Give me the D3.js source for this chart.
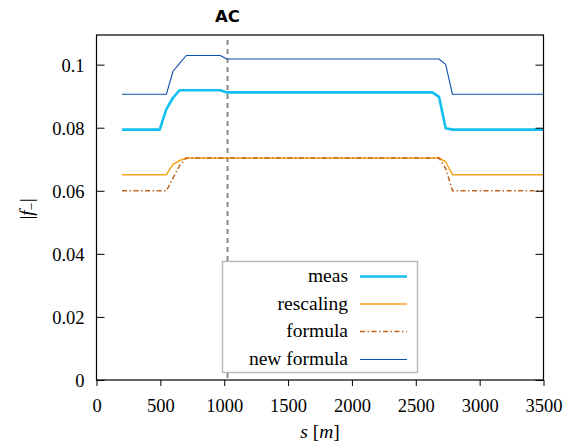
<!DOCTYPE html>
<html><head><meta charset="utf-8">
<script src="https://cdn.jsdelivr.net/npm/d3@7"></script>
<style>
html,body{margin:0;padding:0;background:#fff;}
svg{display:block;}
</style></head>
<body>
<script>
// ---- data ----
const measS = [200, 495, 547, 599, 651, 969, 1021, 2630, 2682, 2734, 2787, 3500];
const measV = [0.0794, 0.0794, 0.0859, 0.0895, 0.0919, 0.0919, 0.0912, 0.0912, 0.0898, 0.0798, 0.0794, 0.0794];

const rescS = [200, 547, 599, 651, 703, 969, 1021, 2682, 2734, 2787, 3500];
const rescV = [0.0651, 0.0651, 0.0684, 0.0696, 0.0704, 0.0704, 0.0704, 0.0704, 0.0692, 0.0651, 0.0651];

const formS = [200, 547, 599, 651, 703, 2682, 2734, 2787, 3500];
const formV = [0.0600, 0.0600, 0.0640, 0.0680, 0.0704, 0.0704, 0.0671, 0.0600, 0.0600];

const newfS = [200, 547, 599, 651, 703, 969, 1021, 2682, 2734, 2787, 3500];
const newfV = [0.0906, 0.0906, 0.0979, 0.1004, 0.1029, 0.1029, 0.1018, 0.1018, 0.1001, 0.0906, 0.0906];

const acPosition = 1026;
const xTicks = [0, 500, 1000, 1500, 2000, 2500, 3000, 3500];
const yTicks = [0, 0.02, 0.04, 0.06, 0.08, 0.1];
const yTickLabels = ["0", "0.02", "0.04", "0.06", "0.08", "0.1"];
const seriesNames = ["meas", "rescaling", "formula", "new formula"];
const xDomain = [0, 3500];
const yDomain = [0, 0.1094];

// ---- layout ----
const W = 567, H = 445;
const m = {left: 96.5, right: 23.5, top: 35, bottom: 65};
const pw = W - m.left - m.right, ph = H - m.top - m.bottom;

const svg = d3.select("body").append("svg").attr("width", W).attr("height", H);
const g = svg.append("g").attr("transform", `translate(${m.left},${m.top})`);

const x = d3.scaleLinear().domain(xDomain).range([0, pw]);
const y = d3.scaleLinear().domain(yDomain).range([ph, 0]);

const serif = "Liberation Serif";

const series = [
  {name: seriesNames[0], s: measS, v: measV, color: "#12bff2", width: 2.6, dash: null},
  {name: seriesNames[1], s: rescS, v: rescV, color: "#f8a41c", width: 1.5, dash: null},
  {name: seriesNames[2], s: formS, v: formV, color: "#c0651e", width: 1.5, dash: "5,2.5,1.5,2.5"},
  {name: seriesNames[3], s: newfS, v: newfV, color: "#0a4fb0", width: 1.1, dash: null}
];

// AC vertical dashed line
g.append("line")
  .attr("x1", x(acPosition)).attr("x2", x(acPosition))
  .attr("y1", 5).attr("y2", ph)
  .attr("stroke", "#8a8a8a").attr("stroke-width", 2).attr("stroke-dasharray", "5,4");

svg.append("text")
  .attr("x", m.left + x(acPosition)).attr("y", 22)
  .attr("text-anchor", "middle")
  .style("font-family", "DejaVu Sans").attr("font-weight", "bold")
  .attr("font-size", 16.5).text("AC");

const line = d3.line().x(d => x(d[0])).y(d => y(d[1]));
[series[1], series[2], series[0], series[3]].forEach(sr => {
  g.append("path")
    .datum(sr.s.map((s, i) => [s, sr.v[i]]))
    .attr("d", line)
    .attr("fill", "none")
    .attr("stroke", sr.color)
    .attr("stroke-width", sr.width)
    .attr("stroke-linejoin", "round")
    .attr("stroke-dasharray", sr.dash);
});

// Axes
const xAxis = g.append("g").attr("transform", `translate(0,${ph})`)
  .call(d3.axisBottom(x).tickValues(xTicks).tickSize(6).tickPadding(13).tickFormat(d3.format("d")));
const yAxis = g.append("g")
  .call(d3.axisLeft(y).tickValues(yTicks).tickSize(-8).tickPadding(12).tickFormat((d, i) => yTickLabels[i]));
const yAxisR = g.append("g").attr("transform", `translate(${pw},0)`)
  .call(d3.axisRight(y).tickValues(yTicks).tickSize(-8).tickFormat(""));
[xAxis, yAxis, yAxisR].forEach(a => {
  a.attr("font-family", null).attr("font-size", null);
  a.select(".domain").remove();
  a.selectAll("line").attr("stroke", "#000").attr("stroke-width", 1);
  a.selectAll("text").style("font-family", serif).style("font-size", "18.5px").attr("fill", "#000");
});
yAxis.selectAll("text").attr("dy", "0.36em");

// frame
g.append("rect").attr("x", 0).attr("y", 0).attr("width", pw).attr("height", ph)
  .attr("fill", "none").attr("stroke", "#000").attr("stroke-width", 1.2);

// Legend
const lg = svg.append("g");
lg.append("rect").attr("x", 222.5).attr("y", 261.5).attr("width", 195).attr("height", 111)
  .attr("fill", "#fff").attr("stroke", "#b8b8b8").attr("stroke-width", 1.4);
const rowY = [276.5, 304, 331.5, 359.5];
series.forEach((sr, i) => {
  lg.append("text").attr("x", 348).attr("y", rowY[i] + 5.5)
    .attr("text-anchor", "end").style("font-family", serif).style("font-size", "19.5px")
    .text(sr.name);
  lg.append("line").attr("x1", 360).attr("x2", 407).attr("y1", rowY[i]).attr("y2", rowY[i])
    .attr("stroke", sr.color).attr("stroke-width", sr.width).attr("stroke-dasharray", sr.dash);
});

// axis labels
const xl = svg.append("text").attr("x", 320).attr("y", 438).attr("text-anchor", "middle")
  .style("font-family", serif).style("font-size", "19.5px");
xl.append("tspan").attr("font-style", "italic").text("s");
xl.append("tspan").text(" [");
xl.append("tspan").attr("font-style", "italic").text("m");
xl.append("tspan").text("]");

const yl = svg.append("text").attr("transform", "translate(33,209) rotate(-90)")
  .attr("text-anchor", "middle").style("font-family", serif).style("font-size", "19.5px");
yl.append("tspan").text("|");
yl.append("tspan").attr("font-style", "italic").text("f");
yl.append("tspan").attr("font-size", 14).attr("dy", 3).text("−");
yl.append("tspan").attr("dy", -3).text("|");
</script>
</body></html>
